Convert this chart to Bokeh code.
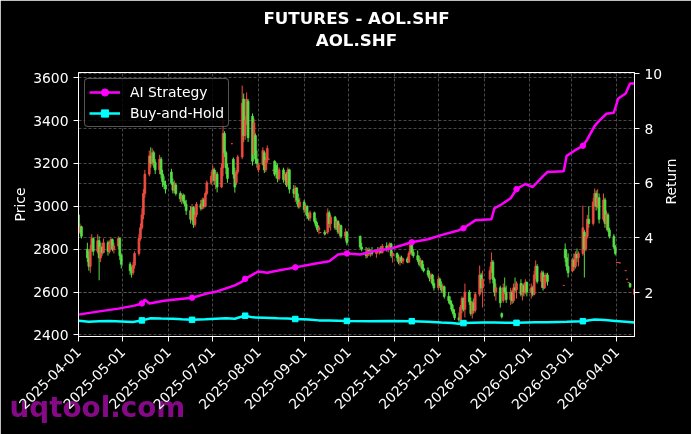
import math
import pandas as pd
from bokeh.plotting import figure
from bokeh.layouts import column
from bokeh.models import (Range1d, LinearAxis, FixedTicker, DatetimeTickFormatter, Legend,
                          LegendItem, Grid, ColumnDataSource, Title, Div)
from bokeh.embed import file_html
from bokeh.resources import INLINE

# ---------------- data ----------------
holidays = ["2025-04-04", "2025-05-01", "2025-05-02", "2025-05-05", "2025-06-02",
            "2025-10-01", "2025-10-02", "2025-10-03", "2025-10-06", "2025-10-07", "2025-10-08",
            "2026-01-01", "2026-01-02", "2026-02-16", "2026-02-17", "2026-02-18", "2026-02-19",
            "2026-02-20", "2026-02-23", "2026-04-06"]

opens = [
    2960, 2880, 2905, 2800, 2760, 2720, 2800, 2850, 2790, 2840, 2760, 2810, 2785, 2830, 2790, 2825, 2845, 2800, 2815, 2850, 2770,
    2730, 2700, 2690, 2725, 2780, 2850, 2900, 2960, 3060, 3150, 3235, 3200, 3250, 3205, 3170, 3220, 3150, 3115, 3100,
    3160, 3110, 3075, 3100, 3060, 3035, 3050, 3025, 3010, 2980, 2940, 2995, 2915, 2960, 3010, 2990, 3030, 3000, 3060, 3110,
    3140, 3170, 3120, 3150, 3090, 3180, 3340, 3250, 3180, 3292, 3220, 3150, 3110, 3160, 3230, 3500, 3330, 3400, 3490, 3420, 3240, 3330, 3220,
    3170, 3195, 3250, 3170, 3215, 3220, 3168, 3210, 3190, 3160, 3130, 3170, 3125, 3150, 3100, 3170, 3080, 3060, 3085, 3030, 3000,
    3020, 2985, 3000, 2955, 2945, 2970, 2930, 2910, 2890, 2878, 2880, 2878, 2880, 2970, 2920, 2950, 2900, 2930, 2880, 2910, 2860, 2880,
    2860, 2810, 2780, 2770, 2795, 2780, 2790, 2780, 2795, 2790, 2800, 2785, 2815, 2800, 2810, 2825, 2770,
    2780, 2760, 2740, 2760, 2745, 2755, 2740, 2780, 2820, 2785, 2770, 2750, 2730, 2745, 2710, 2700, 2680, 2665, 2680, 2640,
    2620, 2660, 2630, 2610, 2625, 2580, 2560, 2545, 2520, 2500, 2480, 2470, 2530, 2570, 2520, 2600, 2555, 2500, 2550, 2515, 2590, 2680, 2620,
    2660, 2700, 2740, 2660, 2600, 2620, 2500, 2560, 2620, 2600, 2565, 2600, 2560, 2620, 2610, 2640, 2590, 2630, 2600, 2645,
    2600, 2620, 2590, 2680, 2720, 2650, 2690, 2620, 2670, 2680, 2631, 2800, 2760, 2720,
    2700, 2750, 2720, 2775, 2760, 2780, 2880, 2800, 2860, 2940, 2920, 3020, 3060, 3000, 3040, 2940, 3030, 2920, 2960, 2890, 2860, 2810,
    2738, 2738, 2736, 2700, 2660, 2645, 2640, 2590,
]
highs = [
    2965, 2920, 2910, 2830, 2790, 2820, 2870, 2855, 2870, 2860, 2830, 2830, 2850, 2840, 2840, 2855, 2850, 2830, 2860, 2855, 2780,
    2740, 2720, 2740, 2790, 2870, 2920, 2990, 3080, 3170, 3260, 3275, 3270, 3260, 3220, 3240, 3230, 3170, 3140, 3120,
    3175, 3130, 3120, 3110, 3070, 3060, 3060, 3055, 3030, 3000, 3010, 3000, 2975, 3020, 3030, 3040, 3040, 3070, 3120, 3160,
    3190, 3180, 3170, 3160, 3200, 3405, 3350, 3260, 3200, 3292, 3228, 3180, 3170, 3240, 3563, 3526, 3420, 3531, 3500, 3433, 3410, 3340, 3260,
    3205, 3275, 3260, 3230, 3284, 3220, 3168, 3215, 3205, 3200, 3181, 3180, 3160, 3160, 3181, 3175, 3100, 3097, 3090, 3060, 3040,
    3030, 3013, 3005, 2970, 2980, 2975, 2945, 2925, 2910, 2878, 2890, 2878, 2990, 2980, 2960, 2955, 2943, 2935, 2920, 2915, 2897, 2885,
    2864, 2830, 2810, 2805, 2808, 2800, 2810, 2800, 2810, 2808, 2815, 2825, 2832, 2820, 2832, 2830, 2790,
    2785, 2775, 2770, 2770, 2760, 2765, 2790, 2832, 2830, 2800, 2794, 2770, 2760, 2750, 2730, 2715, 2700, 2690, 2685, 2660,
    2677, 2668, 2650, 2640, 2630, 2600, 2580, 2561, 2540, 2520, 2505, 2540, 2580, 2575, 2640, 2610, 2575, 2560, 2570, 2600, 2724, 2690, 2700,
    2720, 2785, 2750, 2668, 2640, 2630, 2505, 2640, 2668, 2630, 2620, 2610, 2640, 2668, 2650, 2660, 2640, 2640, 2660, 2650,
    2640, 2630, 2700, 2748, 2730, 2700, 2700, 2680, 2690, 2690, 2631, 2827, 2800, 2780,
    2760, 2780, 2790, 2803, 2790, 3003, 2890, 2870, 2960, 3000, 3040, 3083, 3074, 3080, 3060, 3060, 3040, 2980, 2970, 2900, 2870, 2820,
    2738, 2738, 2736, 2700, 2660, 2645, 2642, 2620,
]
lows = [
    2860, 2870, 2850, 2740, 2700, 2690, 2790, 2770, 2780, 2655, 2740, 2770, 2780, 2770, 2780, 2800, 2790, 2780, 2800, 2750, 2710,
    2680, 2668, 2680, 2710, 2770, 2840, 2890, 2940, 3040, 3140, 3180, 3190, 3180, 3150, 3150, 3130, 3090, 3080, 3060,
    3100, 3060, 3060, 3050, 3020, 3010, 3015, 3000, 2960, 2920, 2930, 2900, 2905, 2950, 2980, 2985, 2990, 2995, 3050, 3100,
    3120, 3100, 3080, 3065, 3085, 3140, 3230, 3150, 3110, 3292, 3130, 3064, 3100, 3150, 3220, 3300, 3310, 3380, 3300, 3190, 3237, 3200, 3180,
    3158, 3190, 3155, 3160, 3200, 3220, 3168, 3140, 3130, 3112, 3120, 3110, 3115, 3090, 3090, 3060, 3040, 3020, 3010, 2990, 2990,
    2970, 2960, 2940, 2934, 2930, 2920, 2900, 2880, 2870, 2878, 2864, 2878, 2870, 2900, 2887, 2890, 2890, 2870, 2860, 2850, 2840, 2818,
    2800, 2790, 2757, 2760, 2770, 2765, 2770, 2760, 2780, 2775, 2780, 2780, 2790, 2785, 2800, 2760, 2738,
    2745, 2730, 2724, 2735, 2730, 2735, 2735, 2775, 2771, 2760, 2740, 2720, 2715, 2700, 2692, 2670, 2650, 2645, 2630, 2607,
    2610, 2620, 2598, 2595, 2570, 2547, 2538, 2510, 2490, 2470, 2458, 2465, 2500, 2510, 2482, 2540, 2490, 2477, 2500, 2505, 2580, 2600, 2528,
    2640, 2690, 2640, 2580, 2560, 2528, 2477, 2550, 2590, 2550, 2540, 2545, 2550, 2600, 2570, 2580, 2561, 2580, 2590, 2580,
    2570, 2580, 2585, 2660, 2640, 2620, 2607, 2615, 2640, 2630, 2631, 2740, 2700, 2668,
    2692, 2701, 2710, 2740, 2720, 2770, 2668, 2790, 2850, 2900, 2910, 3000, 2980, 2990, 2920, 2930, 2900, 2887, 2880, 2850, 2800, 2771,
    2738, 2738, 2736, 2700, 2660, 2645, 2620, 2583,
]
closes = [
    2880, 2905, 2860, 2760, 2720, 2800, 2850, 2790, 2840, 2760, 2810, 2785, 2830, 2790, 2825, 2845, 2800, 2815, 2850, 2770, 2730,
    2700, 2690, 2725, 2780, 2850, 2900, 2960, 3060, 3150, 3235, 3200, 3250, 3205, 3170, 3220, 3150, 3115, 3100, 3080,
    3110, 3075, 3100, 3060, 3035, 3050, 3025, 3010, 2980, 2940, 2995, 2915, 2960, 3010, 2990, 3030, 3000, 3060, 3110, 3140,
    3170, 3120, 3150, 3090, 3180, 3340, 3250, 3180, 3130, 3292, 3150, 3090, 3160, 3230, 3480, 3330, 3400, 3500, 3320, 3210, 3390, 3220, 3200,
    3195, 3260, 3170, 3215, 3270, 3220, 3168, 3150, 3160, 3130, 3170, 3125, 3150, 3100, 3170, 3080, 3060, 3085, 3030, 3000, 3020,
    2985, 3000, 2955, 2945, 2970, 2930, 2910, 2890, 2900, 2878, 2870, 2878, 2970, 2920, 2950, 2900, 2930, 2880, 2910, 2860, 2880, 2830,
    2810, 2800, 2770, 2795, 2780, 2790, 2780, 2795, 2790, 2800, 2785, 2815, 2800, 2810, 2825, 2770, 2780,
    2760, 2740, 2760, 2745, 2755, 2740, 2780, 2820, 2785, 2770, 2750, 2730, 2745, 2710, 2700, 2680, 2665, 2680, 2640, 2620,
    2660, 2630, 2610, 2625, 2580, 2560, 2545, 2520, 2500, 2480, 2470, 2530, 2570, 2520, 2600, 2555, 2500, 2550, 2515, 2590, 2680, 2620, 2660,
    2700, 2740, 2660, 2600, 2620, 2550, 2485, 2620, 2600, 2565, 2600, 2560, 2620, 2610, 2640, 2590, 2630, 2600, 2645, 2600,
    2620, 2590, 2680, 2720, 2650, 2690, 2620, 2670, 2680, 2650, 2631, 2760, 2720, 2690,
    2750, 2720, 2775, 2760, 2780, 2900, 2800, 2860, 2940, 2920, 3020, 3060, 3000, 3040, 2940, 3030, 2920, 2960, 2890, 2860, 2810, 2780,
    2738, 2738, 2736, 2700, 2660, 2645, 2625, 2615,
]

ai_dates = ["2025-04-01", "2025-04-14", "2025-04-28", "2025-05-09", "2025-05-14", "2025-05-16", "2025-05-19",
            "2025-05-29", "2025-06-17", "2025-06-27", "2025-07-04", "2025-07-16", "2025-07-21", "2025-07-23",
            "2025-08-01", "2025-08-07", "2025-08-11", "2025-08-26", "2025-09-09", "2025-09-18", "2025-09-24",
            "2025-09-30", "2025-10-09", "2025-10-17", "2025-10-30", "2025-11-13", "2025-11-24", "2025-12-03",
            "2025-12-15", "2025-12-18", "2025-12-26", "2026-01-06", "2026-01-08", "2026-01-13", "2026-01-19",
            "2026-01-23", "2026-01-29", "2026-02-03", "2026-02-10", "2026-02-13", "2026-02-24", "2026-02-26",
            "2026-03-03", "2026-03-09", "2026-03-12", "2026-03-17", "2026-03-20", "2026-03-25", "2026-03-30",
            "2026-04-02", "2026-04-07", "2026-04-10", "2026-04-13"]
ai_values = [1.19, 1.30, 1.41, 1.52, 1.60, 1.74, 1.60,
             1.70, 1.81, 1.96, 2.04, 2.26, 2.40, 2.50,
             2.77, 2.72, 2.77, 2.92, 3.06, 3.14, 3.39,
             3.43, 3.39, 3.50, 3.61, 3.84, 3.95, 4.10,
             4.28, 4.35, 4.64, 4.68, 5.08, 5.23, 5.45,
             5.78, 5.97, 5.86, 6.26, 6.41, 6.44, 7.00,
             7.18, 7.37, 7.60, 8.10, 8.28, 8.54, 8.58,
             9.10, 9.28, 9.65, 9.65]

bh_dates = ["2025-04-01", "2025-04-08", "2025-04-15", "2025-04-22", "2025-04-30", "2025-05-08", "2025-05-14",
            "2025-05-20", "2025-05-27", "2025-06-04", "2025-06-10", "2025-06-17", "2025-06-26", "2025-07-03",
            "2025-07-10", "2025-07-16", "2025-07-21", "2025-07-23", "2025-07-28", "2025-08-05", "2025-08-14",
            "2025-08-21", "2025-08-26", "2025-09-04", "2025-09-11", "2025-09-18", "2025-09-30", "2025-10-15",
            "2025-10-29", "2025-11-13", "2025-11-24", "2025-12-03", "2025-12-10", "2025-12-15", "2025-12-18",
            "2025-12-31", "2026-01-08", "2026-01-16", "2026-01-23", "2026-02-05", "2026-02-13", "2026-02-26",
            "2026-03-09", "2026-03-17", "2026-03-24", "2026-03-31", "2026-04-07", "2026-04-13"]
bh_values = [0.97, 0.93, 0.95, 0.96, 0.94, 0.92, 0.98,
             1.06, 1.05, 1.04, 1.02, 1.00, 1.02, 1.04,
             1.06, 1.04, 1.12, 1.15, 1.09, 1.08, 1.06,
             1.05, 1.03, 1.01, 0.98, 0.98, 0.96, 0.95,
             0.96, 0.95, 0.93, 0.90, 0.88, 0.86, 0.88,
             0.90, 0.90, 0.89, 0.89, 0.91, 0.91, 0.93,
             0.95, 1.01, 0.99, 0.96, 0.93, 0.90]

marker_dates = ["2025-05-14", "2025-06-17", "2025-07-23", "2025-08-26", "2025-09-30",
                "2025-11-13", "2025-12-18", "2026-01-23", "2026-03-09"]

x_tick_labels = ["2025-04-01", "2025-05-01", "2025-06-01", "2025-07-01", "2025-08-01", "2025-09-01",
                 "2025-10-01", "2025-11-01", "2025-12-01", "2026-01-01", "2026-02-01", "2026-03-01",
                 "2026-04-01"]
price_ticks = [2400, 2600, 2800, 3000, 3200, 3400, 3600]
return_ticks = [2, 4, 6, 8, 10]

# ---------------- build ----------------
FONT = "DejaVu Sans"
RED = "#ee4b40"
GREEN = "#55e045"

days = pd.bdate_range("2025-04-01", "2026-04-13")
days = days[~days.isin(pd.to_datetime(holidays))]
n = min(len(days), len(closes))
days = days[:n]

colors = [RED if c >= o else GREEN for o, c in zip(opens[:n], closes[:n])]
candles = ColumnDataSource(dict(
    x=list(days), o=opens[:n], h=highs[:n], l=lows[:n], c=closes[:n],
    top=[max(o, c) for o, c in zip(opens[:n], closes[:n])],
    bottom=[min(o, c) for o, c in zip(opens[:n], closes[:n])],
    color=colors))

p = figure(width=691, height=434, x_axis_type="datetime", output_backend="svg",
           toolbar_location=None, title=None,
           x_range=Range1d(days[0].to_pydatetime(), days[-1].to_pydatetime()),
           y_range=Range1d(2393, 3624),
           background_fill_color="black", border_fill_color="black",
           min_border_left=78, min_border_right=57, min_border_top=72, min_border_bottom=98,
           outline_line_color="white", outline_line_width=1)

title_kw = dict(align="center", text_color="white", text_font=FONT,
                text_font_size="16.7px", text_font_style="bold")
# spacer closest to the frame, then the two title lines
p.add_layout(Title(text="\u00a0", standoff=1, **title_kw), "above")
p.add_layout(Title(text="AOL.SHF", standoff=0, **title_kw), "above")
p.add_layout(Title(text="FUTURES - AOL.SHF", standoff=0, **title_kw), "above")

p.extra_y_ranges = {"ret": Range1d(0.39, 10.05)}

# grids
x_ticks_ms = [pd.Timestamp(s).value // 10**6 for s in x_tick_labels]
p.xgrid.ticker = FixedTicker(ticks=x_ticks_ms)
p.ygrid.ticker = FixedTicker(ticks=price_ticks)
for g in [p.xgrid[0], p.ygrid[0]]:
    g.grid_line_color = "#5a5a5a"
    g.grid_line_dash = "3 2"
    g.grid_line_width = 0.8
rgrid = Grid(dimension=1, ticker=FixedTicker(ticks=return_ticks), y_range_name="ret",
             grid_line_color="#5a5a5a", grid_line_dash="3 2", grid_line_width=0.8)
p.add_layout(rgrid)

# candles
p.segment(x0="x", y0="l", x1="x", y1="h", color="color", line_width=1, source=candles)
p.vbar(x="x", width=1.2 * 86400000, top="top", bottom="bottom", fill_color="color",
       line_color="color", line_width=0.8, source=candles)

# strategy lines
ai_x = pd.to_datetime(ai_dates)
bh_x = pd.to_datetime(bh_dates)
ai_map = dict(zip(ai_dates, ai_values))
bh_map = dict(zip(bh_dates, bh_values))
mk_x = pd.to_datetime(marker_dates)

ai_line = p.line(ai_x, ai_values, color="#ff00ff", line_width=2.5, y_range_name="ret")
ai_mk = p.scatter(mk_x, [ai_map[d] for d in marker_dates], marker="circle", size=5.5,
                  color="#ff00ff", y_range_name="ret")
bh_line = p.line(bh_x, bh_values, color="#00ffff", line_width=2.5, y_range_name="ret")
bh_mk = p.scatter(mk_x, [bh_map[d] for d in marker_dates], marker="square", size=5.5,
                  color="#00ffff", y_range_name="ret")

# axes
right = LinearAxis(y_range_name="ret", axis_label="Return", ticker=FixedTicker(ticks=return_ticks))
if "axis_label_orientation" in LinearAxis.properties():
    right.axis_label_orientation = math.pi / 2
p.add_layout(right, "right")

p.yaxis[0].ticker = FixedTicker(ticks=price_ticks)
p.yaxis[0].axis_label = "Price"
p.xaxis.ticker = FixedTicker(ticks=x_ticks_ms)
fmt = "%Y-%m-%d"
p.xaxis.formatter = DatetimeTickFormatter(years=fmt, months=fmt, days=fmt, hours=fmt,
                                          strip_leading_zeros=False)
p.xaxis.major_label_orientation = math.pi / 4

for ax in [p.xaxis[0], p.yaxis[0], right]:
    ax.axis_line_color = "white"
    ax.axis_line_width = 1
    ax.major_tick_line_color = "white"
    ax.major_tick_out = 5
    ax.major_tick_in = 0
    ax.minor_tick_line_color = None
    ax.major_label_text_color = "white"
    ax.major_label_text_font = FONT
    ax.major_label_text_font_size = "13.9px"
    ax.major_label_standoff = 5
    ax.axis_label_text_color = "white"
    ax.axis_label_text_font = FONT
    ax.axis_label_text_font_size = "13.9px"
    ax.axis_label_text_font_style = "normal"
    ax.axis_label_standoff = 2
p.xaxis[0].major_label_standoff = 8
right.axis_label_standoff = 6

# legend
legend = Legend(items=[LegendItem(label="AI Strategy", renderers=[ai_line, ai_mk]),
                       LegendItem(label="Buy-and-Hold", renderers=[bh_line, bh_mk])],
                location="top_left", margin=6, padding=4, spacing=3,
                glyph_width=31, glyph_height=18, label_height=18, label_standoff=10,
                label_text_color="white", label_text_font=FONT, label_text_font_size="13.9px",
                background_fill_color="black", background_fill_alpha=0.8,
                border_line_color="#aaaaaa", border_line_width=1)
if "border_radius" in Legend.properties():
    legend.border_radius = 4
p.add_layout(legend)

# watermark (page text laid over the canvas; 'lighten' keeps the white tick labels on top)
wm = Div(text="uqtool.com", width=200, height=36,
         styles={"position": "absolute", "left": "9.5px", "top": "391px",
                 "font-family": "DejaVu Sans", "font-weight": "bold", "font-size": "27.8px",
                 "line-height": "normal", "color": "#860a88", "white-space": "nowrap",
                 "mix-blend-mode": "lighten", "margin": "0", "padding": "0",
                 "pointer-events": "none"})

layout = column(p, wm, spacing=0)
open("out.html", "w").write(file_html(layout, INLINE))
